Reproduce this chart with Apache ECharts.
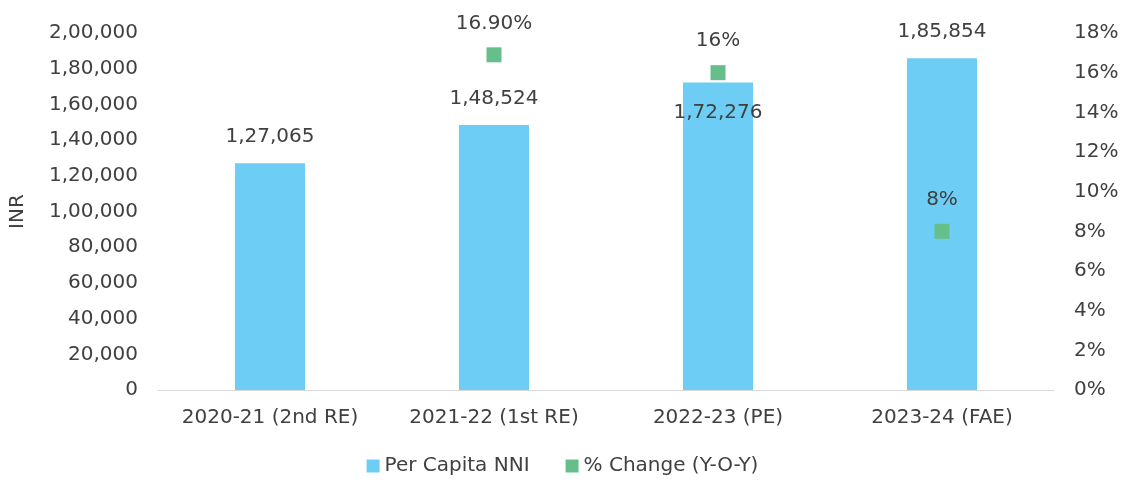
<!DOCTYPE html>
<html>
<head>
<meta charset="utf-8">
<script src="https://cdn.jsdelivr.net/npm/echarts@6/dist/echarts.min.js"></script>
<style>
  html, body { margin: 0; padding: 0; background: #fff; }
  #chart { width: 1125px; height: 485px; }
</style>
</head>
<body>
<div id="chart"></div>
<script>
const categories = ['2020-21 (2nd RE)', '2021-22 (1st RE)', '2022-23 (PE)', '2023-24 (FAE)'];
const perCapitaNNI = [127065, 148524, 172276, 185854];
const pctChange = [null, 16.9, 16, 8];
const pctLabels = ['', '16.90%', '16%', '8%'];

const FONT = 'DejaVu Sans';
const TEXT = '#404040';
const FS = 20;

// Indian digit grouping, e.g. 1,85,854
function inr(v) {
  const s = String(Math.round(v));
  if (s.length <= 3) return s;
  const last3 = s.slice(-3);
  const rest = s.slice(0, -3).replace(/\B(?=(\d{2})+(?!\d))/g, ',');
  return rest + ',' + last3;
}

const chart = echarts.init(document.getElementById('chart'));

chart.setOption({
  animation: false,
  textStyle: { fontFamily: FONT, color: TEXT },
  grid: { left: 158, right: 71, top: 33, bottom: 95 },
  legend: {
    bottom: 4,
    itemWidth: 13,
    itemHeight: 13,
    itemGap: 36,
    icon: 'rect',
    textStyle: { fontFamily: FONT, fontSize: FS, color: TEXT },
    data: ['Per Capita NNI', '% Change (Y-O-Y)']
  },
  xAxis: {
    type: 'category',
    data: categories,
    axisTick: { show: false },
    axisLine: { lineStyle: { color: '#d9d9d9' } },
    axisLabel: { fontFamily: FONT, fontSize: FS, color: TEXT, margin: 18, interval: 0 }
  },
  yAxis: [
    {
      type: 'value',
      min: 0, max: 200000, interval: 20000,
      name: 'INR',
      nameLocation: 'middle',
      nameGap: 130,
      nameTextStyle: { fontFamily: FONT, fontSize: FS, color: TEXT },
      splitLine: { show: false },
      axisLine: { show: false },
      axisTick: { show: false },
      axisLabel: { fontFamily: FONT, fontSize: FS, color: TEXT, margin: 20, formatter: inr }
    },
    {
      type: 'value',
      min: 0, max: 18, interval: 2,
      splitLine: { show: false },
      axisLine: { show: false },
      axisTick: { show: false },
      axisLabel: { fontFamily: FONT, fontSize: FS, color: TEXT, margin: 20, formatter: '{value}%' }
    }
  ],
  series: [
    {
      name: 'Per Capita NNI',
      type: 'bar',
      barWidth: 70,
      itemStyle: { color: '#6dcdf5' },
      label: {
        show: true,
        position: 'top',
        distance: 16,
        fontFamily: FONT,
        fontSize: FS,
        color: TEXT,
        formatter: p => inr(p.value)
      },
      data: perCapitaNNI.map((v, i) => i === 2
        ? { value: v, label: { position: 'insideTop', distance: 20 } }
        : v)
    },
    {
      name: '% Change (Y-O-Y)',
      type: 'scatter',
      yAxisIndex: 1,
      symbol: 'rect',
      symbolSize: 15,
      itemStyle: { color: '#66bf8b', opacity: 1 },
      label: {
        show: true,
        position: 'top',
        distance: 14,
        fontFamily: FONT,
        fontSize: FS,
        color: TEXT,
        formatter: p => pctLabels[p.dataIndex]
      },
      data: pctChange
    }
  ]
});
</script>
</body>
</html>
